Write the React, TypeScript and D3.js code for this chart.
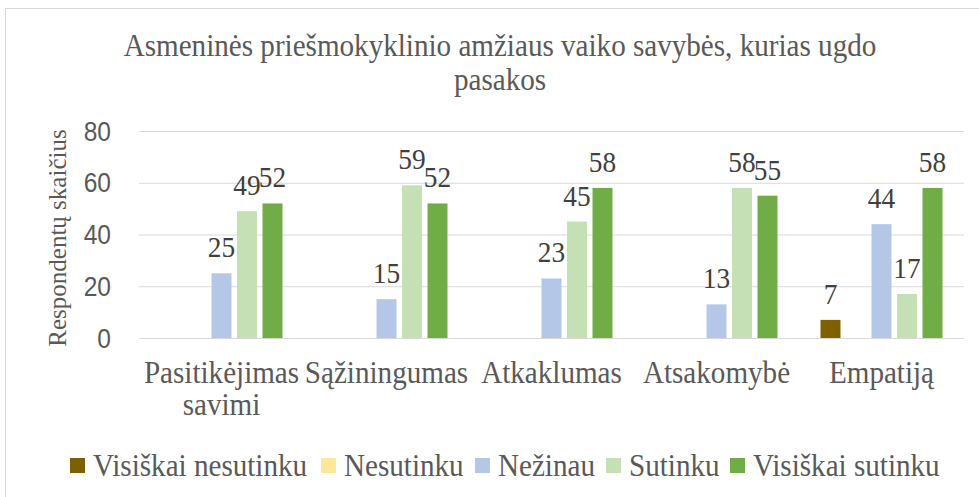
import React from "react";
import * as d3 from "d3";

const categories: string[][] = [
  ["Pasitikėjimas", "savimi"],
  ["Sąžiningumas"],
  ["Atkaklumas"],
  ["Atsakomybė"],
  ["Empatiją"],
];
const seriesNames = ["Visiškai nesutinku", "Nesutinku", "Nežinau", "Sutinku", "Visiškai sutinku"];
const seriesColors = ["#7F6000", "#FFE699", "#B4C7E7", "#C5E0B4", "#70AD47"];
const visiskaiNesutinku = [0, 0, 0, 0, 7];
const nesutinku = [0, 0, 0, 0, 0];
const nezinau = [25, 15, 23, 13, 44];
const sutinku = [49, 59, 45, 58, 17];
const visiskaiSutinku = [52, 52, 58, 55, 58];
const seriesValues = [visiskaiNesutinku, nesutinku, nezinau, sutinku, visiskaiSutinku];
const yTicks = [0, 20, 40, 60, 80];
const titleLines = ["Asmeninės priešmokyklinio amžiaus vaiko savybės, kurias ugdo", "pasakos"];
const yTitle = "Respondentų skaičius";

const W = 979;
const H = 497;
const plot = { left: 139, right: 964, top: 131, bottom: 338 };
const serif = "Liberation Serif";
const sans = "Liberation Sans";
const SX = 0.91;

type TProps = {
  x: number;
  y: number;
  size: number;
  anchor?: "start" | "middle" | "end";
  family?: string;
  fill?: string;
  dy?: string;
  children: React.ReactNode;
};

function T({ x, y, size, anchor = "start", family = serif, fill = "#595959", dy, children }: TProps) {
  return (
    <text
      transform={`translate(${x},${y}) scale(${SX},1)`}
      textAnchor={anchor}
      fontSize={size}
      fill={fill}
      dy={dy}
      style={{ fontFamily: family }}
    >
      {children}
    </text>
  );
}

export default function App() {
  const catKeys = categories.map((c) => c.join(" "));
  const x = d3.scaleBand<string>().domain(catKeys).range([plot.left, plot.right]).padding(0);
  const bw = x.bandwidth();
  const xi = d3
    .scaleBand<string>()
    .domain(seriesNames)
    .range([bw * 0.1136, bw * 0.8864])
    .paddingInner(0.216)
    .paddingOuter(0.108);
  const y = d3.scaleLinear().domain([0, 80]).range([plot.bottom, plot.top]);

  const legendX = [70, 321, 475, 606, 730];

  return (
    <svg
      width={W}
      height={H}
      style={{ position: "absolute", left: 0, top: 0, background: "#fff" }}
    >
      <rect x={5.5} y={8.5} width={W} height={H} fill="#fff" stroke="#D9D9D9" strokeWidth={1} />
      {titleLines.map((t, i) => (
        <T key={i} x={500} y={56 + i * 34} size={32} anchor="middle">
          {t}
        </T>
      ))}
      {yTicks.map((t) => (
        <g key={t}>
          <line x1={plot.left} x2={plot.right} y1={y(t) + 0.5} y2={y(t) + 0.5} stroke="#D9D9D9" strokeWidth={1} />
          <T x={111} y={y(t)} dy="0.36em" anchor="end" size={27} family={sans}>
            {t}
          </T>
        </g>
      ))}
      <text
        transform={`translate(66, ${238}) rotate(-90)`}
        textAnchor="middle"
        fontSize={25}
        fill="#595959"
        style={{ fontFamily: serif }}
      >
        {yTitle}
      </text>
      {catKeys.map((c, ci) => (
        <g key={c}>
          {seriesNames.map((s, si) => {
            const v = seriesValues[si][ci];
            if (!v) return null;
            const bx = (x(c) as number) + (xi(s) as number);
            return (
              <g key={s}>
                <rect x={bx} y={y(v)} width={xi.bandwidth()} height={y(0) - y(v)} fill={seriesColors[si]} />
                <T x={bx + xi.bandwidth() / 2} y={y(v) - 16} anchor="middle" size={30} fill="#404040">
                  {v}
                </T>
              </g>
            );
          })}
          {categories[ci].map((line, li) => (
            <T key={li} x={(x(c) as number) + bw / 2} y={383 + li * 32} anchor="middle" size={32}>
              {line}
            </T>
          ))}
        </g>
      ))}
      {seriesNames.map((s, si) => (
        <g key={s}>
          <rect x={legendX[si]} y={458} width={15} height={15} fill={seriesColors[si]} />
          <T x={legendX[si] + 23} y={476} size={32}>
            {s}
          </T>
        </g>
      ))}
    </svg>
  );
}
